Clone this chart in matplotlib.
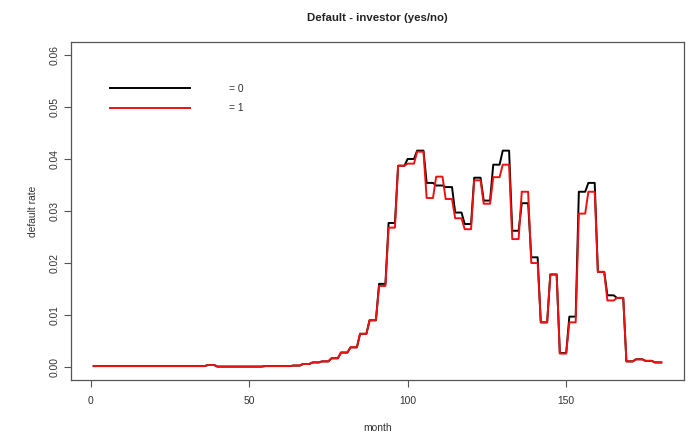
import numpy as np
import matplotlib
matplotlib.use("Agg")
import matplotlib.pyplot as plt
from matplotlib.lines import Line2D

plt.rcParams['font.family'] = ['Liberation Sans', 'DejaVu Sans']

# quarterly default rates (each held for 3 months), months 1..180
rate_0_quarterly = [
    0.0002, 0.0002, 0.0002, 0.0002, 0.0002, 0.0002, 0.0002, 0.0002, 0.0002, 0.0002,
    0.0002, 0.0002, 0.0004, 0.0001, 0.0001, 0.0001, 0.0001, 0.0001, 0.0002, 0.0002,
    0.0002, 0.0003, 0.0006, 0.0009, 0.0011, 0.0017, 0.0028, 0.0038, 0.0064, 0.0090,
    0.0160, 0.0277, 0.0387, 0.0400, 0.0416, 0.0354, 0.0349, 0.0346, 0.0297, 0.0275,
    0.0364, 0.0320, 0.0389, 0.0416, 0.0262, 0.0315, 0.0211, 0.0086, 0.0178, 0.0027,
    0.0097, 0.0337, 0.0354, 0.0183, 0.0138, 0.0133, 0.0011, 0.0015, 0.0012, 0.0009,
]
rate_1_quarterly = [
    0.0002, 0.0002, 0.0002, 0.0002, 0.0002, 0.0002, 0.0002, 0.0002, 0.0002, 0.0002,
    0.0002, 0.0002, 0.0004, 0.0001, 0.0001, 0.0001, 0.0001, 0.0001, 0.0002, 0.0002,
    0.0002, 0.0003, 0.0006, 0.0009, 0.0011, 0.0017, 0.0028, 0.0038, 0.0064, 0.0090,
    0.0156, 0.0268, 0.0387, 0.0391, 0.0414, 0.0325, 0.0366, 0.0323, 0.0286, 0.0265,
    0.0359, 0.0314, 0.0365, 0.0389, 0.0246, 0.0337, 0.0200, 0.0086, 0.0178, 0.0026,
    0.0086, 0.0295, 0.0337, 0.0183, 0.0128, 0.0133, 0.0011, 0.0015, 0.0012, 0.0009,
]
months = np.arange(1, 181)
rate_0 = np.repeat(rate_0_quarterly, 3)
rate_1 = np.repeat(rate_1_quarterly, 3)

x_ticks = [0, 50, 100, 150]
y_ticks = [0.00, 0.01, 0.02, 0.03, 0.04, 0.05, 0.06]
y_tick_labels = ["0.00", "0.01", "0.02", "0.03", "0.04", "0.05", "0.06"]
legend_labels = ["= 0", "= 1"]

W, H = 691, 436
fig = plt.figure(figsize=(W / 100, H / 100), dpi=100)
L, R, T, B = 71, 684, 42.4, 379.6
ax = fig.add_axes([L / W, 1 - B / H, (R - L) / W, (B - T) / H])

ax.plot(months, rate_0, color='black', lw=1.4)
ax.plot(months, rate_1, color='#ee1111', lw=1.4)

span = months[-1] - months[0]
ax.set_xlim(months[0] - 0.04 * span, months[-1] + 0.04 * span)
ax.set_ylim(-0.06 * 0.04, 0.06 * 1.04)

fs = 7.4
ax.set_xticks(x_ticks)
ax.set_yticks(y_ticks)
ax.set_yticklabels(y_tick_labels, rotation=90, va='center')
ax.tick_params(axis='both', direction='out', length=5, width=0.8, color='#555555',
               labelsize=fs, labelcolor='#333333')
ax.tick_params(axis='x', pad=7)
ax.tick_params(axis='y', pad=3.5)
for s in ax.spines.values():
    s.set_color('#555555')
    s.set_linewidth(0.9)

ax.set_xlabel("month", fontsize=fs, color='#333333')
ax.set_ylabel("default rate", fontsize=fs, color='#333333')
ax.xaxis.set_label_coords(0.5, (B - 428) / (B - T))
ax.xaxis.label.set_va('center')
ax.yaxis.set_label_coords((33 - L) / (R - L), 0.5)
ax.yaxis.label.set_va('center')

ax.set_title("Default - investor (yes/no)", fontsize=8.2, fontweight='bold',
             y=(B - 18) / (B - T), va='center', pad=0, color='#222222')

handles = [Line2D([], [], color='black', lw=1.4), Line2D([], [], color='#ee1111', lw=1.4)]
ax.legend(handles, legend_labels, loc='upper left',
          bbox_to_anchor=((110 - L) / (R - L), (B - 83.5) / (B - T)),
          frameon=False, fontsize=fs, handlelength=7.8, handletextpad=3.8,
          labelspacing=0.95, borderpad=0, borderaxespad=0, labelcolor='#333333')

fig.savefig("out.png", dpi=100)
